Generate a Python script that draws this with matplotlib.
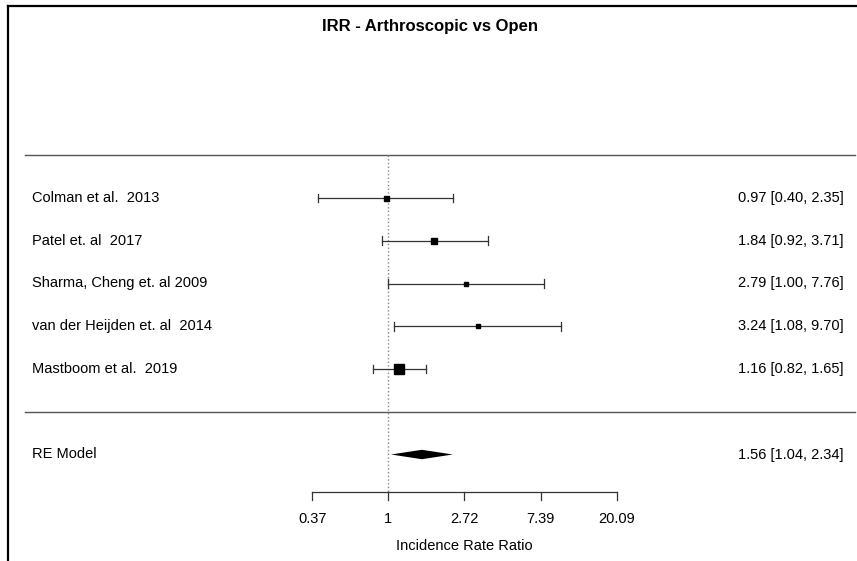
import numpy as np
import matplotlib.pyplot as plt
from matplotlib.lines import Line2D

studies = ["Colman et al.  2013", "Patel et. al  2017", "Sharma, Cheng et. al 2009",
           "van der Heijden et. al  2014", "Mastboom et al.  2019"]
irr = [0.97, 1.84, 2.79, 3.24, 1.16]
ci_low = [0.40, 0.92, 1.00, 1.08, 0.82]
ci_high = [2.35, 3.71, 7.76, 9.70, 1.65]
box_size = [3.6, 4.0, 2.6, 2.3, 7.6]   # marker size (pt), from weights

re_est, re_low, re_high = 1.56, 1.04, 2.34
tick_vals = [0.37, 1, 2.72, 7.39, 20.09]
tick_labels = ["0.37", "1", "2.72", "7.39", "20.09"]

fig = plt.figure(figsize=(8.57, 5.61), dpi=100)
ax = fig.add_axes([0, 0, 1, 1])
ax.axis("off")
# pixel mapping: log-scale, x=1 at 388px, 76.25px per unit
ax.set_xlim((0 - 388) / 76.25, (857 - 388) / 76.25)
ax.set_ylim(5 - (561 - 198) / 42.75, 5 + 198 / 42.75)

k = len(studies)
rows = np.arange(k, 0, -1)
left = (32 - 388) / 76.25
right = (844 - 388) / 76.25

# separator lines
ax.plot([(25 - 388) / 76.25, (855 - 388) / 76.25], [6, 6], color="#555555", lw=1)
ax.plot([(25 - 388) / 76.25, (855 - 388) / 76.25], [0, 0], color="#555555", lw=1)

# reference line
ax.plot([0, 0], [6, -1.87], color="#888888", lw=1, ls=":")

fs = 10.5
ff = "Liberation Sans"
for r, name, est, lo, hi, s in zip(rows, studies, irr, ci_low, ci_high, box_size):
    ax.plot([np.log(lo), np.log(hi)], [r, r], color="#333333", lw=0.9)
    for v in (lo, hi):
        ax.plot([np.log(v)] * 2, [r - 0.1, r + 0.1], color="#333333", lw=0.9)
    ax.plot(np.log(est), r, marker="s", color="black", ms=s, ls="none")
    ax.text(left, r, name, ha="left", va="center", fontsize=fs, family=ff)
    ax.text(right, r, f"{est:.2f} [{lo:.2f}, {hi:.2f}]", ha="right", va="center",
            fontsize=fs, family=ff)

# RE model diamond
ry = -1
ax.fill([np.log(re_low), np.log(re_est), np.log(re_high), np.log(re_est)],
        [ry, ry + 0.11, ry, ry - 0.11], color="black", lw=0)
ax.text(left, ry, "RE Model", ha="left", va="center", fontsize=fs, family=ff)
ax.text(right, ry, f"{re_est:.2f} [{re_low:.2f}, {re_high:.2f}]", ha="right", va="center",
        fontsize=fs, family=ff)

# x axis
ay = -1.87
lt = [np.log(t) for t in tick_vals]
ax.plot([lt[0], lt[-1]], [ay, ay], color="#333333", lw=0.9)
for t, lab in zip(lt, tick_labels):
    ax.plot([t, t], [ay, ay - 0.2], color="#333333", lw=0.9)
    ax.text(t, ay - 0.63, lab, ha="center", va="center", fontsize=fs, family=ff)
ax.text(np.mean([lt[0], lt[-1]]), ay - 1.27, "Incidence Rate Ratio", ha="center", va="center",
        fontsize=fs, family=ff)

fig.text(430 / 857, 1 - 27 / 561, "IRR - Arthroscopic vs Open", ha="center", va="center",
         fontsize=12, fontweight="bold", family=ff)

# frame corner
fig.add_artist(Line2D([8 / 857, 8 / 857], [0, 1 - 6 / 561], transform=fig.transFigure,
                      color="black", lw=1.6))
fig.add_artist(Line2D([8 / 857, 1], [1 - 6 / 561, 1 - 6 / 561], transform=fig.transFigure,
                      color="black", lw=1.6))

fig.savefig("out.png", dpi=100)
